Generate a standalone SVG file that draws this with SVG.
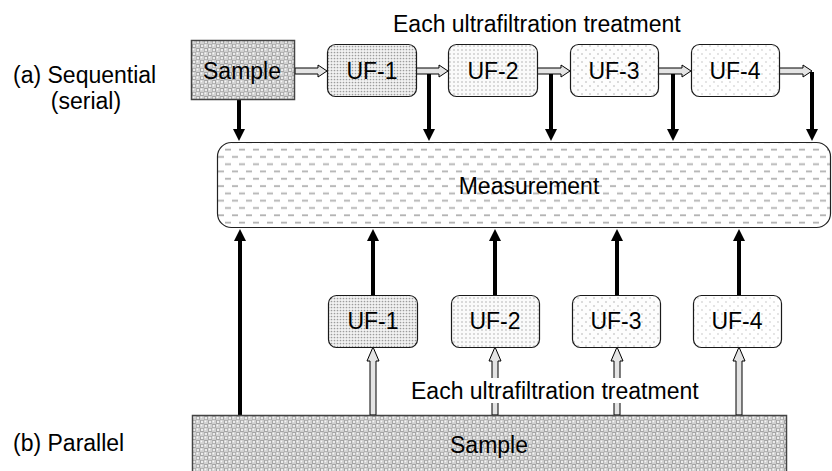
<svg xmlns="http://www.w3.org/2000/svg" width="832" height="471" viewBox="0 0 832 471">
  <defs>
    <!-- coarse bubble texture for the sample blocks -->
    <pattern id="bubbles" width="8" height="8" patternUnits="userSpaceOnUse">
      <rect width="8" height="8" fill="#a4a4a4"/>
      <circle cx="2" cy="2" r="2.5" fill="#d0d0d0"/>
      <circle cx="6" cy="6" r="2.5" fill="#d0d0d0"/>
      <circle cx="1.4" cy="1.4" r="0.9" fill="#f6f6f6"/>
      <circle cx="5.4" cy="5.4" r="0.9" fill="#f6f6f6"/>
      <rect x="5" y="1" width="2" height="2" fill="#ececec"/>
      <rect x="1" y="5" width="2" height="2" fill="#ececec"/>
    </pattern>
    <!-- stipples, from densest (UF-1) to sparsest (UF-4) -->
    <pattern id="dots1" width="3" height="3" patternUnits="userSpaceOnUse">
      <rect width="3" height="3" fill="#f2f2f2"/>
      <circle cx="1.5" cy="1.5" r="0.85" fill="#9c9c9c"/>
    </pattern>
    <pattern id="dots2" width="4" height="4" patternUnits="userSpaceOnUse">
      <rect width="4" height="4" fill="#fafafa"/>
      <circle cx="2" cy="2" r="0.75" fill="#a8a8a8"/>
    </pattern>
    <pattern id="dots3" width="8" height="8" patternUnits="userSpaceOnUse">
      <rect width="8" height="8" fill="#fdfdfd"/>
      <circle cx="2" cy="2" r="0.75" fill="#a8a8a8"/>
      <circle cx="6" cy="6" r="0.75" fill="#a8a8a8"/>
    </pattern>
    <pattern id="dots4" width="8" height="8" patternUnits="userSpaceOnUse">
      <rect width="8" height="8" fill="#ffffff"/>
      <circle cx="2" cy="2" r="0.65" fill="#b4b4b4"/>
      <circle cx="6" cy="6" r="0.65" fill="#b4b4b4"/>
    </pattern>
    <!-- horizontal dash texture for the measurement block -->
    <pattern id="dashes" width="14" height="14.6" patternUnits="userSpaceOnUse">
      <rect width="14" height="14.6" fill="#ffffff"/>
      <line x1="1" y1="3.6" x2="7" y2="3.6" stroke="#b2b2b2" stroke-width="1.8"/>
      <line x1="8" y1="10.9" x2="14" y2="10.9" stroke="#b2b2b2" stroke-width="1.8"/>
    </pattern>
    <marker id="head" markerUnits="userSpaceOnUse" markerWidth="12" markerHeight="12" viewBox="0 0 12 12" refX="1" refY="6" orient="auto">
      <path d="M0,0 L12,6 L0,12 Z" fill="#000"/>
    </marker>
  </defs>
  <style>
    text { font-family: "Liberation Sans", Arial, sans-serif; font-size: 23px; fill: #000; }
    .mid { text-anchor: middle; }
    .uf { stroke: #1a1a1a; stroke-width: 1.2; }
    .flow { stroke: #000; stroke-width: 4; fill: none; marker-end: url(#head); }
    .hollow { fill: #e4e4e4; stroke: #000; stroke-width: 1; stroke-linejoin: miter; }
  </style>

  <!-- side labels -->
  <text x="13" y="83">(a) Sequential</text>
  <text class="mid" x="86" y="109">(serial)</text>
  <text x="13" y="451">(b) Parallel</text>
  <text x="393" y="32">Each ultrafiltration treatment</text>

  <!-- connectors -->
  <g id="connectors">
    <!-- serial chain: hollow transfer arrows -->
    <polygon class="hollow" points="295,68 318,68 318,65 327,71 318,77 318,74 295,74"/>
    <polygon class="hollow" points="416,68 439,68 439,65 448,71 439,77 439,74 416,74"/>
    <polygon class="hollow" points="537,68 561,68 561,65 570,71 561,77 561,74 537,74"/>
    <polygon class="hollow" points="658,68 682,68 682,65 691,71 682,77 682,74 658,74"/>
    <polygon class="hollow" points="779,68 803,68 803,65 812,71 803,77 803,74 779,74"/>
    <!-- serial chain: to measurement -->
    <line class="flow" x1="239" y1="100" x2="239" y2="130"/>
    <line class="flow" x1="429" y1="74" x2="429" y2="130"/>
    <line class="flow" x1="551" y1="74" x2="551" y2="130"/>
    <line class="flow" x1="673" y1="74" x2="673" y2="130"/>
    <line class="flow" x1="812" y1="72" x2="812" y2="130"/>
    <!-- parallel: hollow feed arrows from the sample -->
    <polygon class="hollow" points="370,415 370,361 367,361 373,347 379,361 376,361 376,415"/>
    <polygon class="hollow" points="492,415 492,361 489,361 495,347 501,361 498,361 498,415"/>
    <polygon class="hollow" points="614,415 614,361 611,361 617,347 623,361 620,361 620,415"/>
    <polygon class="hollow" points="736,415 736,361 733,361 739,347 745,361 742,361 742,415"/>
    <!-- parallel: to measurement -->
    <line class="flow" x1="240" y1="415" x2="240" y2="240"/>
    <line class="flow" x1="373" y1="295" x2="373" y2="240"/>
    <line class="flow" x1="495" y1="295" x2="495" y2="240"/>
    <line class="flow" x1="617" y1="295" x2="617" y2="240"/>
    <line class="flow" x1="739" y1="295" x2="739" y2="240"/>
  </g>

  <!-- serial nodes -->
  <g id="sample-a">
    <rect x="191.5" y="40.5" width="103" height="59" fill="url(#bubbles)" stroke="#444" stroke-width="1.5"/>
    <text class="mid" x="242" y="79">Sample</text>
  </g>
  <g id="uf1-a">
    <rect class="uf" x="327.5" y="44.5" width="89" height="52" rx="8" fill="url(#dots1)"/>
    <text class="mid" x="372" y="79">UF-1</text>
  </g>
  <g id="uf2-a">
    <rect class="uf" x="448.5" y="44.5" width="89" height="52" rx="8" fill="url(#dots2)"/>
    <text class="mid" x="493" y="79">UF-2</text>
  </g>
  <g id="uf3-a">
    <rect class="uf" x="570.5" y="44.5" width="88" height="52" rx="8" fill="url(#dots3)"/>
    <text class="mid" x="614" y="79">UF-3</text>
  </g>
  <g id="uf4-a">
    <rect class="uf" x="691.5" y="44.5" width="88" height="52" rx="8" fill="url(#dots4)"/>
    <text class="mid" x="735" y="79">UF-4</text>
  </g>

  <!-- shared measurement step -->
  <g id="measurement">
    <rect x="217.5" y="142.5" width="613" height="85" rx="14" fill="url(#dashes)" stroke="#222" stroke-width="1.2"/>
    <text class="mid" x="529" y="194">Measurement</text>
  </g>

  <!-- parallel nodes -->
  <g id="uf1-b">
    <rect class="uf" x="328.5" y="295.5" width="89" height="52" rx="8" fill="url(#dots1)"/>
    <text class="mid" x="373" y="329">UF-1</text>
  </g>
  <g id="uf2-b">
    <rect class="uf" x="451.5" y="295.5" width="88" height="52" rx="8" fill="url(#dots2)"/>
    <text class="mid" x="495" y="329">UF-2</text>
  </g>
  <g id="uf3-b">
    <rect class="uf" x="572.5" y="295.5" width="88" height="52" rx="8" fill="url(#dots3)"/>
    <text class="mid" x="616" y="329">UF-3</text>
  </g>
  <g id="uf4-b">
    <rect class="uf" x="693.5" y="295.5" width="88" height="52" rx="8" fill="url(#dots4)"/>
    <text class="mid" x="737" y="329">UF-4</text>
  </g>

  <!-- label over the parallel feed arrows -->
  <rect x="408" y="378" width="301" height="25" fill="#ffffff"/>
  <text x="411" y="399">Each ultrafiltration treatment</text>

  <g id="sample-b">
    <rect x="192.5" y="415.5" width="594" height="70" fill="url(#bubbles)" stroke="#444" stroke-width="1.5"/>
    <text class="mid" x="489" y="453">Sample</text>
  </g>
</svg>
